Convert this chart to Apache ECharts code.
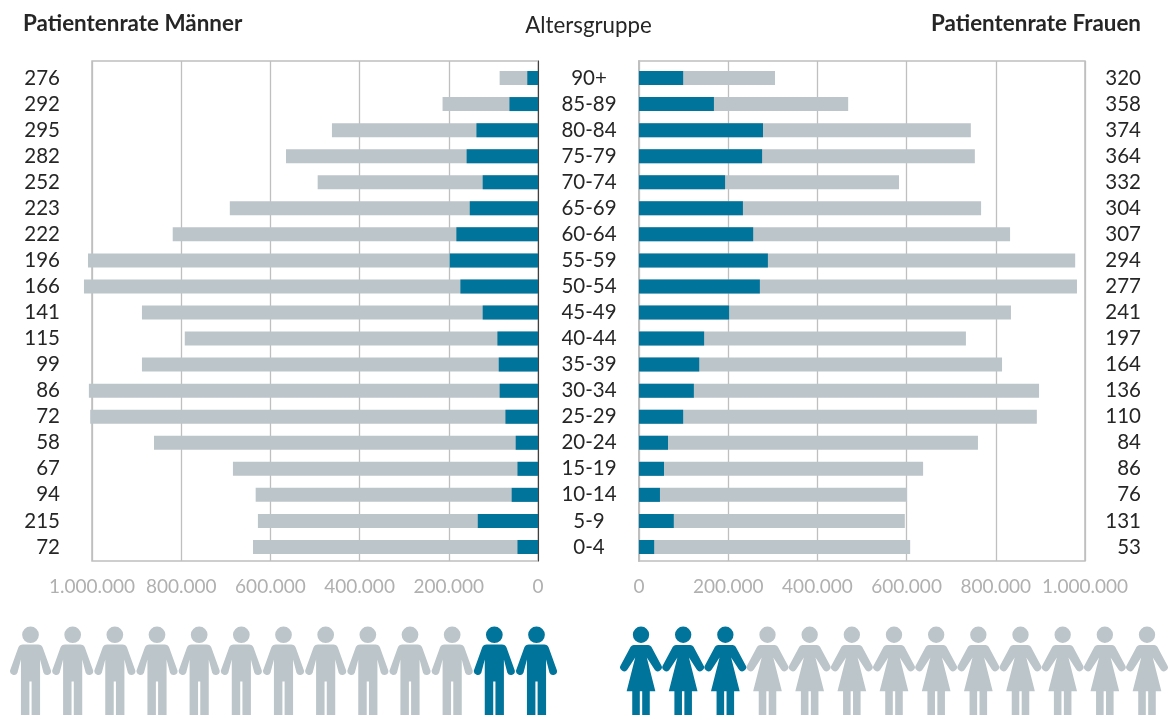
<!DOCTYPE html>
<html>
<head>
<meta charset="utf-8">
<style>html,body{margin:0;padding:0;background:#fff;overflow:hidden}#c{width:1168px;height:715px}</style>
<script src="https://cdn.jsdelivr.net/npm/echarts@6/dist/echarts.min.js"></script>
</head>
<body>
<div id="c"></div>
<script>
const ages = ['90+','85-89','80-84','75-79','70-74','65-69','60-64','55-59','50-54','45-49','40-44','35-39','30-34','25-29','20-24','15-19','10-14','5-9','0-4'];
const ratesMen = ['276','292','295','282','252','223','222','196','166','141','115','99','86','72','58','67','94','215','72'];
const ratesWomen = ['320','358','374','364','332','304','307','294','277','241','197','164','136','110','84','86','76','131','53'];
const populationMen = [86000,214000,462000,565000,494000,691000,819000,1009000,1018000,888000,792000,888000,1007000,1004000,861000,684000,633000,628000,639000];
const patientsMen = [24000,64000,138000,160000,124000,153000,183000,198000,174000,124000,91000,88000,86000,73000,50000,46000,59000,135000,46000];
const populationWomen = [305000,469000,744000,753000,583000,767000,832000,978000,982000,834000,733000,814000,897000,892000,760000,637000,601000,596000,608000];
const patientsWomen = [99000,168000,278000,276000,193000,233000,256000,289000,271000,202000,146000,135000,123000,99000,65000,56000,47000,78000,34000];
const figuresMen = ['g','g','g','g','g','g','g','g','g','g','g','t','t'];
const figuresWomen = ['t','t','t','g','g','g','g','g','g','g','g','g','g'];

const TEAL = '#00749b', GREY = '#bcc5ca', FRAME = '#bfbfbf', TICK = '#b0b0b0', INK = '#262626';
const FONT = 'Lato';
const MAN = 'path://M20.5 0a8.3 8.3 0 1 0 0.01 0zM13 18L28 18Q31.5 18 32.6 21L40.8 44A3.9 3.9 0 0 1 33.4 46.2L30 33L30 89L21.6 89L21.6 55L19.4 55L19.4 89L11 89L11 33L7.6 46.2A3.9 3.9 0 0 1 0.2 44L8.4 21Q9.5 18 13 18Z';
const WOMAN = 'path://M20.8 0a8.2 8.2 0 1 0 0.01 0zM13.6 18.5L28 18.5Q30 18.5 31.2 20.3L41 38.6A3.9 3.9 0 0 1 34.4 43L26.6 31L35.2 64.7L29.6 64.7L29.6 89L22 89L22 64.7L19.6 64.7L19.6 89L12 89L12 64.7L6.4 64.7L15 31L7.2 43A3.9 3.9 0 0 1 0.6 38.6L10.4 20.3Q11.6 18.5 13.6 18.5Z';

const fmt = v => String(v).replace(/\B(?=(\d{3})+(?!\d))/g, '.');
const frameGrid = (left) => ({left, top: 61, width: 446, height: 500, show: true, borderColor: FRAME, borderWidth: 1.5, backgroundColor: 'transparent'});
const barGrid = (left) => ({left, top: 65, width: 446, height: 495});
const frameX = (gridIndex, inverse) => ({
  type: 'value', gridIndex, inverse, min: 0, max: 1000000, interval: 200000,
  axisLine: {show: false}, axisTick: {show: false},
  splitLine: {show: true, lineStyle: {color: FRAME, width: 1.3}},
  axisLabel: {show: true, color: TICK, fontFamily: FONT, fontSize: 19, margin: 16, formatter: fmt, hideOverlap: false, showMinLabel: true, showMaxLabel: true}
});
const hiddenX = (gridIndex, inverse) => ({type: 'value', gridIndex, inverse, min: 0, max: 1000000, show: false});
const catY = (gridIndex, data, position, margin, align, extra) => ({
  type: 'category', gridIndex, data, position, inverse: true,
  axisLine: {show: false}, axisTick: {show: false}, splitLine: {show: false},
  axisLabel: {show: true, interval: 0, color: INK, fontFamily: FONT, fontSize: 20.5, margin, align, padding: [4, 0, 0, 0]}, ...extra
});
const bars = (name, data, color, idx) => ({
  name, type: 'bar', xAxisIndex: idx, yAxisIndex: idx, data, barWidth: 14, barGap: '-100%', clip: false, silent: true,
  itemStyle: {color}, animation: false
});
const figures = (items, symbol, size, idx, kind, color) => ({
  type: 'scatter', xAxisIndex: idx, yAxisIndex: idx, symbol, symbolSize: size, silent: true, clip: false, animation: false,
  itemStyle: {color, opacity: 1},
  data: items.map((k, i) => k === kind ? [i, 0] : null).filter(Boolean)
});

const option = {
  backgroundColor: '#fff',
  animation: false,
  title: [
    {text: 'Patientenrate Männer', left: 18, top: 8, textStyle: {fontFamily: FONT, fontWeight: 'bold', fontSize: 22.4, color: INK}},
    {text: 'Altersgruppe', left: 583.5, top: 10, textAlign: 'center', textStyle: {fontFamily: FONT, fontWeight: 'normal', fontSize: 22.3, color: INK}},
    {text: 'Patientenrate Frauen', left: 1136, top: 8, textAlign: 'right', textStyle: {fontFamily: FONT, fontWeight: 'bold', fontSize: 22.4, color: INK}}
  ],
  grid: [
    frameGrid(92), frameGrid(639), barGrid(92), barGrid(639),
    {left: 30.5, top: 627, width: 506, height: 89},
    {left: 641, top: 627, width: 506, height: 89}
  ],
  xAxis: [
    frameX(0, true), frameX(1, false), hiddenX(2, true), hiddenX(3, false),
    {type: 'value', gridIndex: 4, min: 0, max: 12, show: false},
    {type: 'value', gridIndex: 5, min: 0, max: 12, show: false}
  ],
  yAxis: [
    {type: 'category', gridIndex: 0, data: ages, position: 'right', axisLabel: {show: false}, axisTick: {show: false}, axisLine: {show: true, lineStyle: {color: '#404040', width: 1}}, splitLine: {show: false}},
    {type: 'category', gridIndex: 1, data: ages, axisLabel: {show: false}, axisTick: {show: false}, axisLine: {show: true, lineStyle: {color: FRAME, width: 2}}, splitLine: {show: false}},
    catY(2, ratesMen, 'left', 32, 'right'),
    catY(3, ages, 'left', 50, 'center'),
    {type: 'value', gridIndex: 4, min: -1, max: 1, show: false},
    {type: 'value', gridIndex: 5, min: -1, max: 1, show: false},
    catY(3, ratesWomen, 'right', 56, 'right')
  ],
  series: [
    bars('Bevölkerung Männer', populationMen, GREY, 2),
    bars('Patienten Männer', patientsMen, TEAL, 2),
    bars('Bevölkerung Frauen', populationWomen, GREY, 3),
    bars('Patienten Frauen', patientsWomen, TEAL, 3),
    figures(figuresMen, MAN, [41, 89], 4, 'g', GREY),
    figures(figuresMen, MAN, [41, 89], 4, 't', TEAL),
    figures(figuresWomen, WOMAN, [41.6, 89], 5, 'g', GREY),
    figures(figuresWomen, WOMAN, [41.6, 89], 5, 't', TEAL)
  ]
};
echarts.init(document.getElementById('c'), null, {renderer: 'canvas'}).setOption(option);
</script>
</body>
</html>
